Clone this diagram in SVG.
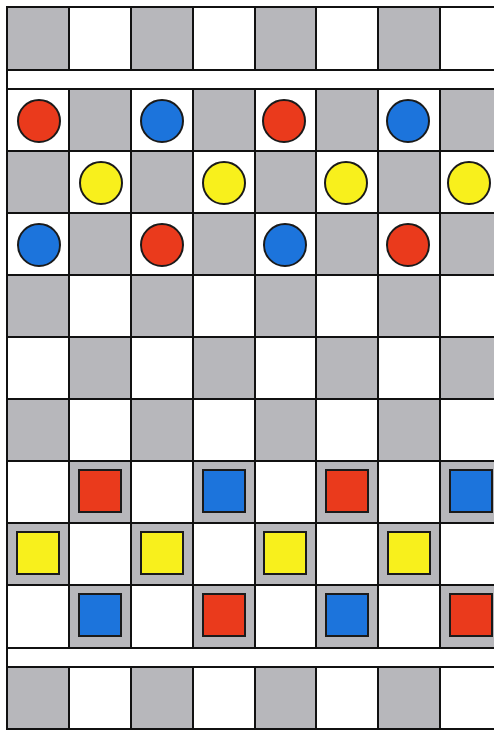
<svg xmlns="http://www.w3.org/2000/svg" width="494" height="730" viewBox="0 0 494 730">
<style>
.g{fill:#b7b7bb}
.w{fill:#ffffff}
.ln{stroke:#111;stroke-width:2;fill:none}
.pc{stroke:#1a1a1a;stroke-width:2}
.r{fill:#ea3a1c}
.b{fill:#1c74dc}
.y{fill:#f8f01c}
</style>
<rect x="0" y="0" width="494" height="730" fill="#ffffff"/>
<g id="board">
<g id="row0">
<rect class="g" x="7" y="7" width="62" height="63"/><rect class="w" x="69" y="7" width="62" height="63"/>
<rect class="g" x="131" y="7" width="62" height="63"/><rect class="w" x="193" y="7" width="62" height="63"/>
<rect class="g" x="255" y="7" width="61" height="63"/><rect class="w" x="316" y="7" width="62" height="63"/>
<rect class="g" x="378" y="7" width="62" height="63"/><rect class="w" x="440" y="7" width="62" height="63"/>
</g>
<g id="rows-gray">
<rect class="g" x="69" y="89" width="62" height="62"/><rect class="g" x="193" y="89" width="62" height="62"/><rect class="g" x="316" y="89" width="62" height="62"/><rect class="g" x="440" y="89" width="62" height="62"/>
<rect class="g" x="7" y="151" width="62" height="62"/><rect class="g" x="131" y="151" width="62" height="62"/><rect class="g" x="255" y="151" width="61" height="62"/><rect class="g" x="378" y="151" width="62" height="62"/>
<rect class="g" x="69" y="213" width="62" height="62"/><rect class="g" x="193" y="213" width="62" height="62"/><rect class="g" x="316" y="213" width="62" height="62"/><rect class="g" x="440" y="213" width="62" height="62"/>
<rect class="g" x="7" y="275" width="62" height="62"/><rect class="g" x="131" y="275" width="62" height="62"/><rect class="g" x="255" y="275" width="61" height="62"/><rect class="g" x="378" y="275" width="62" height="62"/>
<rect class="g" x="69" y="337" width="62" height="62"/><rect class="g" x="193" y="337" width="62" height="62"/><rect class="g" x="316" y="337" width="62" height="62"/><rect class="g" x="440" y="337" width="62" height="62"/>
<rect class="g" x="7" y="399" width="62" height="62"/><rect class="g" x="131" y="399" width="62" height="62"/><rect class="g" x="255" y="399" width="61" height="62"/><rect class="g" x="378" y="399" width="62" height="62"/>
<rect class="g" x="69" y="461" width="62" height="62"/><rect class="g" x="193" y="461" width="62" height="62"/><rect class="g" x="316" y="461" width="62" height="62"/><rect class="g" x="440" y="461" width="62" height="62"/>
<rect class="g" x="7" y="523" width="62" height="62"/><rect class="g" x="131" y="523" width="62" height="62"/><rect class="g" x="255" y="523" width="61" height="62"/><rect class="g" x="378" y="523" width="62" height="62"/>
<rect class="g" x="69" y="585" width="62" height="63"/><rect class="g" x="193" y="585" width="62" height="63"/><rect class="g" x="316" y="585" width="62" height="63"/><rect class="g" x="440" y="585" width="62" height="63"/>
</g>
<g id="row10">
<rect class="g" x="7" y="667" width="62" height="62"/><rect class="g" x="131" y="667" width="62" height="62"/>
<rect class="g" x="255" y="667" width="61" height="62"/><rect class="g" x="378" y="667" width="62" height="62"/>
</g>
<g id="gridlines" class="ln">
<path d="M7 6V730"/>
<path d="M69 7V70M69 89V648M69 667V729"/>
<path d="M131 7V70M131 89V648M131 667V729"/>
<path d="M193 7V70M193 89V648M193 667V729"/>
<path d="M255 7V70M255 89V648M255 667V729"/>
<path d="M316 7V70M316 89V648M316 667V729"/>
<path d="M378 7V70M378 89V648M378 667V729"/>
<path d="M440 7V70M440 89V648M440 667V729"/>
<path d="M6 7H494M6 70H494M6 89H494M6 151H494M6 213H494M6 275H494M6 337H494M6 399H494M6 461H494M6 523H494M6 585H494M6 648H494M6 667H494M6 729H494"/>
</g>
</g>
<g id="circles" class="pc">
<circle class="r" cx="39" cy="121" r="21"/><circle class="b" cx="162" cy="121" r="21"/><circle class="r" cx="284" cy="121" r="21"/><circle class="b" cx="408" cy="121" r="21"/>
<circle class="y" cx="101" cy="183" r="21"/><circle class="y" cx="224" cy="183" r="21"/><circle class="y" cx="346" cy="183" r="21"/><circle class="y" cx="469" cy="183" r="21"/>
<circle class="b" cx="39" cy="245" r="21"/><circle class="r" cx="162" cy="245" r="21"/><circle class="b" cx="285" cy="245" r="21"/><circle class="r" cx="408" cy="245" r="21"/>
</g>
<g id="squares" class="pc">
<rect class="r" x="79" y="470" width="42" height="42"/><rect class="b" x="203" y="470" width="42" height="42"/><rect class="r" x="326" y="470" width="42" height="42"/><rect class="b" x="450" y="470" width="42" height="42"/>
<rect class="y" x="17" y="532" width="42" height="42"/><rect class="y" x="141" y="532" width="42" height="42"/><rect class="y" x="264" y="532" width="42" height="42"/><rect class="y" x="388" y="532" width="42" height="42"/>
<rect class="b" x="79" y="594" width="42" height="42"/><rect class="r" x="203" y="594" width="42" height="42"/><rect class="b" x="326" y="594" width="42" height="42"/><rect class="r" x="450" y="594" width="42" height="42"/>
</g>
</svg>
